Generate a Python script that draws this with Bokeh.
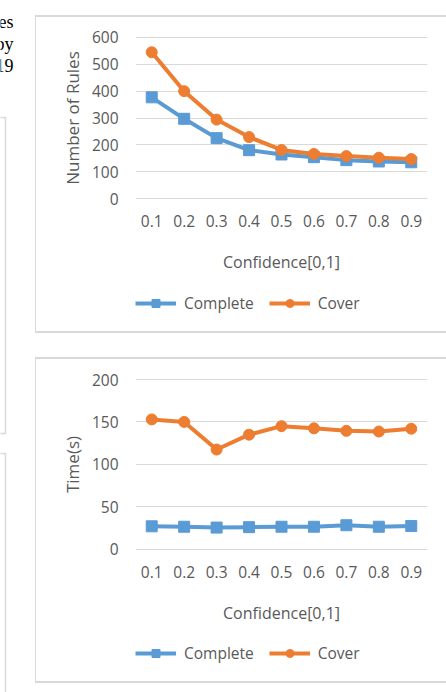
from bokeh.plotting import figure
from bokeh.models import Range1d, FactorRange, FixedTicker, Legend, LegendItem, Spacer
from bokeh.layouts import column, row
from bokeh.embed import file_html
from bokeh.resources import INLINE

# ---- data -------------------------------------------------------------
confidence = ["0.1", "0.2", "0.3", "0.4", "0.5", "0.6", "0.7", "0.8", "0.9"]

rules_complete = [377, 297, 225, 180, 164, 154, 143, 138, 135]
rules_cover = [545, 400, 294, 229, 181, 166, 158, 152, 147]

time_complete = [27, 26.5, 25.5, 26, 26.5, 26.5, 28.3, 26.5, 27.4]
time_cover = [153, 150, 117.5, 135, 145, 142.5, 139.5, 138.7, 142]

rules_ticks = [0, 100, 200, 300, 400, 500, 600]
time_ticks = [0, 50, 100, 150, 200]

series_names = ["Complete", "Cover"]

# tail ends of the body-text lines that sit left of the figure
margin_words = ["es", "by", "19"]

# ---- styling ----------------------------------------------------------
BLUE = "#5B9BD5"
ORANGE = "#ED7D31"
GRID = "#D9D9D9"
TEXT = "#595959"
BORDER = "#D9D9D9"
FONT = "Open Sans"
INNER_W = 410
BOX_CSS = {"border-left": f"1px solid {BORDER}",
           "border-top": f"2px solid {BORDER}",
           "border-bottom": f"2px solid {BORDER}"}
SERIES_STYLE = [dict(color=BLUE, marker="square"), dict(color=ORANGE, marker="circle")]
NAN = float("nan")


def draw_series(p, xs, ys, style):
    ln = p.line(xs, ys, line_color=style["color"], line_width=4, line_join="round")
    mk = p.scatter(xs, ys, marker=style["marker"], size=11,
                   fill_color=style["color"], line_color=style["color"])
    return [ln, mk]


def chart(a_vals, b_vals, ticks, yr, ytitle, main_h, top, bottom, gap):
    p = figure(width=INNER_W, height=main_h, x_range=FactorRange(*confidence),
               y_range=Range1d(*yr), output_backend="svg", toolbar_location=None,
               min_border_left=99, min_border_right=19,
               min_border_top=top, min_border_bottom=bottom)
    p.outline_line_color = None

    p.xgrid.grid_line_color = None
    p.ygrid.grid_line_color = GRID
    p.ygrid.grid_line_width = 1
    p.yaxis.ticker = FixedTicker(ticks=ticks)

    for ax in (p.xaxis[0], p.yaxis[0]):
        ax.axis_line_color = None
        ax.major_tick_line_color = None
        ax.minor_tick_line_color = None
        ax.major_tick_out = 0
        ax.major_tick_in = 0
        ax.major_label_text_font = FONT
        ax.major_label_text_font_size = "15.5px"
        ax.major_label_text_color = TEXT
        ax.axis_label_text_font = FONT
        ax.axis_label_text_font_style = "normal"
        ax.axis_label_text_color = TEXT

    p.yaxis.axis_label = ytitle
    p.yaxis.axis_label_text_font_size = "17px"
    p.yaxis.major_label_standoff = 17
    p.yaxis.axis_label_standoff = 5
    p.xaxis.axis_label = "Confidence[0,1]"
    p.xaxis.axis_label_text_font_size = "16px"
    p.xaxis.major_label_standoff = 15
    p.xaxis.axis_label_standoff = 21

    draw_series(p, confidence, a_vals, SERIES_STYLE[0])
    draw_series(p, confidence, b_vals, SERIES_STYLE[1])

    # legend strip under the axis title; its frame lines up with the chart's
    # frame, and its keys reuse the series styling (a single NaN point each)
    lg = figure(width=INNER_W, height=36, x_range=Range1d(0, 1),
                y_range=Range1d(0, 1), output_backend="svg", toolbar_location=None,
                min_border_left=99, min_border_right=19,
                min_border_top=0, min_border_bottom=0,
                x_axis_type=None, y_axis_type=None)
    lg.outline_line_color = None
    lg.grid.visible = False
    items = [LegendItem(label=name, renderers=draw_series(lg, [NAN], [NAN], style))
             for name, style in zip(series_names, SERIES_STYLE)]
    lg.add_layout(Legend(items=items, orientation="horizontal", location="left",
                         glyph_width=41, glyph_height=20, label_height=20,
                         label_standoff=8, spacing=15, padding=0, margin=0,
                         background_fill_alpha=0, border_line_color=None,
                         label_text_font=FONT, label_text_font_size="15.5px",
                         label_text_color=TEXT))

    return column(p, lg, Spacer(width=INNER_W, height=10), spacing=0,
                  styles=BOX_CSS, margin=(gap, 0, 0, 0))


top = chart(rules_complete, rules_cover, rules_ticks, (-3.7, 603.7),
            "Number of Rules", 268, 19, 86, 15)
bottom = chart(time_complete, time_cover, time_ticks, (-1.5, 201.2),
               "Time(s)", 276, 19, 85, 24)

# narrow strip on the left: neighbouring page panels and text line ends
side = figure(width=35, height=692, x_range=Range1d(0, 35), y_range=Range1d(692, 0),
              output_backend="svg", toolbar_location=None, min_border=0,
              x_axis_type=None, y_axis_type=None)
side.outline_line_color = None
side.grid.visible = False
side.quad(left=[-20, -20], right=[5, 5], top=[117, 453], bottom=[433, 720],
          fill_alpha=0, line_color=BORDER, line_width=1.5)
side.text(x=[13, 13, 13], y=[21, 43, 65], text=margin_words,
          text_align="right", text_baseline="alphabetic",
          text_font={"value": "Liberation Serif"}, text_font_size="18px",
          text_color="#000000")

layout = row(side, column(top, bottom, spacing=0), spacing=0)
open("out.html", "w").write(file_html(layout, INLINE))
